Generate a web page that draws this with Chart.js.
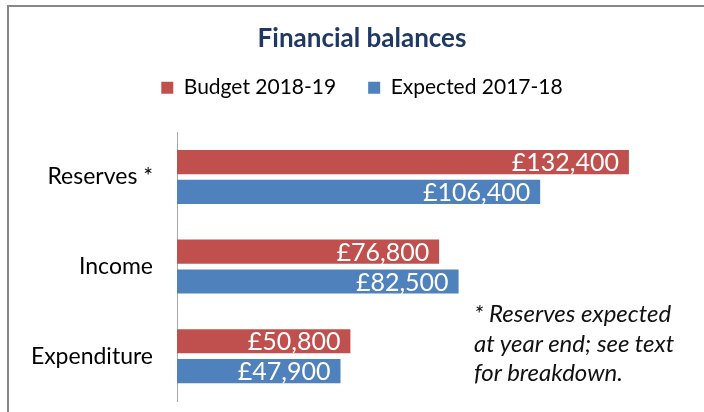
<!DOCTYPE html>
<html>
<head>
<meta charset="utf-8">
<script src="https://cdn.jsdelivr.net/npm/chart.js@4.4.0/dist/chart.umd.min.js"></script>
<style>
  html, body { margin: 0; padding: 0; background: #fff; }
  #wrap { position: relative; width: 704px; height: 412px; overflow: hidden; }
  #frame { position: absolute; left: 7px; top: 5px; width: 800px; height: 500px;
           border-top: 2px solid #878787; border-left: 2px solid #878787; }
  #chart { position: absolute; left: 0; top: 0; }
  #note { position: absolute; left: 474px; top: 298px; font: italic 24px Lato;
          line-height: 29.5px; color: #111; white-space: nowrap; }
</style>
</head>
<body>
<div id="wrap">
  <div id="frame"></div>
  <canvas id="chart" width="704" height="412"></canvas>
  <div id="note">* Reserves expected<br>at year end; see text<br>for breakdown.</div>
</div>
<script>
// Daten
const categories = ['Reserves *', 'Income', 'Expenditure'];
const budget = [132400, 76800, 50800];
const expected = [106400, 82500, 47900];
const seriesNames = ['Budget 2018-19', 'Expected 2017-18'];

Chart.defaults.font.family = 'Lato';
Chart.defaults.color = '#000';

// Werte weiss ans Ende der Balken schreiben
const valueLabels = {
  id: 'valueLabels',
  afterDatasetsDraw(chart) {
    const ctx = chart.ctx;
    ctx.save();
    ctx.font = '25px Lato';
    ctx.fillStyle = '#fff';
    ctx.textAlign = 'right';
    ctx.textBaseline = 'middle';
    chart.data.datasets.forEach((ds, i) => {
      chart.getDatasetMeta(i).data.forEach((bar, j) => {
        ctx.fillText('£' + ds.data[j].toLocaleString('en-GB'), bar.x - 10, bar.y + 1);
      });
    });
    ctx.restore();
  }
};

// etwas Abstand zwischen Legende und Diagramm
const legendGap = {
  id: 'legendGap',
  beforeInit(chart) {
    const origFit = chart.legend.fit;
    chart.legend.fit = function () {
      origFit.bind(chart.legend)();
      this.height += 24;
    };
  }
};

new Chart(document.getElementById('chart'), {
  type: 'bar',
  data: {
    labels: categories,
    datasets: [
      { label: seriesNames[0], data: budget, backgroundColor: '#C0504D' },
      { label: seriesNames[1], data: expected, backgroundColor: '#4F81BD' }
    ]
  },
  options: {
    indexAxis: 'y',
    responsive: false,
    animation: false,
    layout: { padding: { left: 20, right: 0, top: 0, bottom: 11 } },
    datasets: { bar: { categoryPercentage: 0.666, barPercentage: 0.81 } },
    plugins: {
      title: {
        display: true,
        text: 'Financial balances',
        color: '#1F3864',
        font: { size: 26, weight: 'bold' },
        padding: { top: 23, bottom: -9 }
      },
      legend: {
        position: 'top',
        labels: { boxWidth: 12, boxHeight: 12, padding: 32, font: { size: 21 }, color: '#000' }
      },
      tooltip: { enabled: false }
    },
    scales: {
      x: { display: false, min: 0, max: 154400 },
      y: {
        grid: { display: false, drawTicks: false },
        border: { display: true, color: '#A6A6A6', width: 1 },
        ticks: { padding: 24, font: { size: 23 }, color: '#000' },
        afterFit: (scale) => {
          scale.width = 157;
          scale.paddingTop = 0;
          scale.paddingBottom = 0;
        }
      }
    }
  },
  plugins: [valueLabels, legendGap]
});
</script>
</body>
</html>
